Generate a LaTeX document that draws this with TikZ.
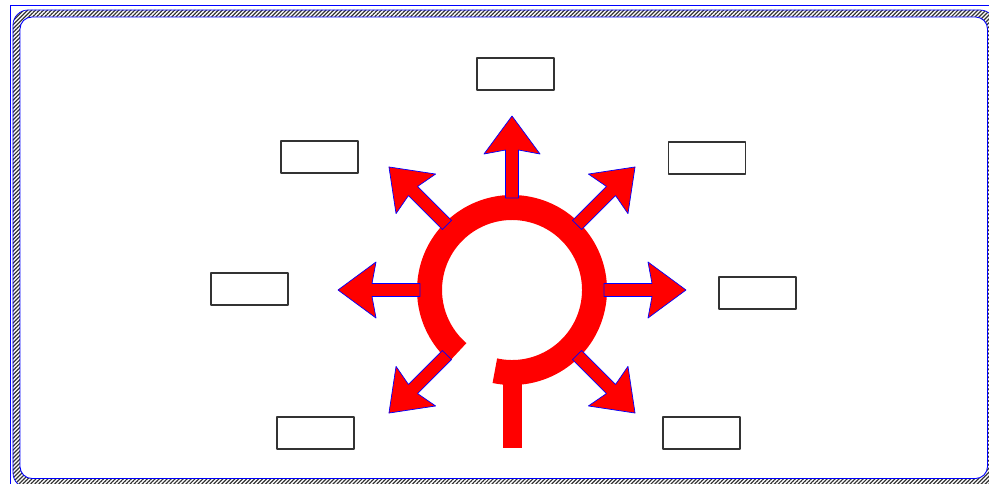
\documentclass[tikz,border=0pt]{standalone}
\usetikzlibrary{patterns.meta}

\begin{document}
\begin{tikzpicture}[line join=round,
  labelbox/.style={draw=black!80, line width=0.6pt, fill=white, minimum width=1.54cm, minimum height=0.64cm, inner sep=0pt},
  arrowbody/.style={fill=red, draw=blue, line width=0.4pt}]

% Khung tranh
\clip (0,0) rectangle (19.78,9.66);
\draw[blue, line width=0.4pt] (0.2,-1) -- (0.2,9.56) -- (20.5,9.56);
\draw[blue, line width=0.4pt, pattern={Lines[angle=45,distance=1.6pt,line width=0.7pt]}, pattern color=black!80, rounded corners=0.3cm] (0.26,-0.1) rectangle (19.9,9.46);
\draw[blue, line width=0.5pt, fill=white, rounded corners=0.24cm] (0.40,0.09) rectangle (19.75,9.32);

% Tâm vòng tròn
\coordinate (O) at (10.24,3.86);

% Vòng tròn đỏ (có chỗ hở ở dưới)
\draw[red, line width=0.5cm, line cap=butt] (O) ++(-102:1.65) arc (-102:229:1.65);

% Thân dọc phía dưới
\fill[red] (10.06,0.70) rectangle (10.44,2.20);

% Các mũi tên tỏa ra
\foreach \a in {0,45,90,135,180,225,315}
  \draw[arrowbody, shift={(O)}, rotate=\a]
    (1.84,-0.13) -- (2.80,-0.13) -- (2.72,-0.56) -- (3.48,0)
    -- (2.72,0.56) -- (2.80,0.13) -- (1.84,0.13) -- cycle;

% Các ô trống
\node[labelbox] (boxN)  at (10.31,8.18) {};
\node[labelbox] (boxNW) at (6.39,6.52) {};
\node[labelbox] (boxNE) at (14.14,6.50) {};
\node[labelbox] (boxW)  at (4.99,3.88) {};
\node[labelbox] (boxE)  at (15.15,3.80) {};
\node[labelbox] (boxSW) at (6.31,1.00) {};
\node[labelbox] (boxSE) at (14.03,1.00) {};

\end{tikzpicture}
\end{document}
